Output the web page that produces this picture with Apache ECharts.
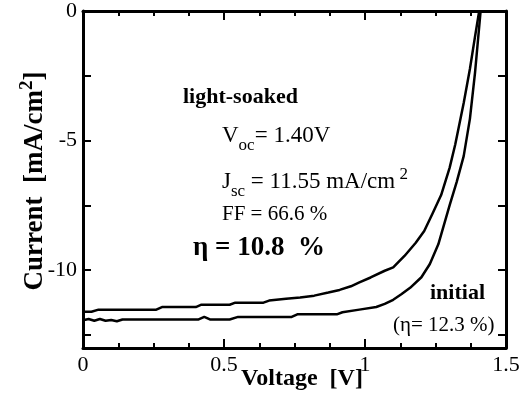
<!DOCTYPE html>
<html>
<head>
<meta charset="utf-8">
<script src="https://cdn.jsdelivr.net/npm/echarts@6/dist/echarts.min.js"></script>
<style>html,body{margin:0;padding:0;background:#fff}#c{width:528px;height:408px}</style>
</head>
<body>
<div id="c"></div>
<script>
// Light-soaked J-V curve [V, mA/cm2]
const lightSoaked = [
  [0,-11.60],[0.03,-11.60],[0.055,-11.52],[0.26,-11.52],[0.28,-11.42],[0.40,-11.42],
  [0.42,-11.33],[0.52,-11.33],[0.54,-11.25],[0.64,-11.25],[0.66,-11.17],[0.72,-11.10],
  [0.77,-11.05],[0.82,-10.98],[0.87,-10.86],[0.91,-10.76],[0.95,-10.62],[0.98,-10.47],
  [1.02,-10.28],[1.07,-10.02],[1.10,-9.89],[1.14,-9.45],[1.18,-8.94],[1.21,-8.49],
  [1.24,-7.80],[1.27,-7.10],[1.30,-6.05],[1.32,-5.15],[1.35,-3.55],[1.372,-2.24],
  [1.39,-1.0],[1.405,0]
];
// Initial J-V curve
const initial = [
  [0,-11.93],[0.02,-11.88],[0.04,-11.95],[0.06,-11.88],[0.08,-11.95],[0.10,-11.92],
  [0.12,-11.97],[0.14,-11.90],[0.41,-11.90],[0.43,-11.80],[0.45,-11.90],[0.52,-11.90],
  [0.55,-11.80],[0.74,-11.80],[0.76,-11.70],[0.90,-11.70],[0.92,-11.62],[0.98,-11.52],
  [1.04,-11.42],[1.07,-11.30],[1.10,-11.14],[1.13,-10.92],[1.16,-10.68],[1.20,-10.27],
  [1.23,-9.76],[1.26,-9.0],[1.28,-8.25],[1.30,-7.5],[1.325,-6.6],[1.35,-5.6],
  [1.372,-4.16],[1.39,-2.4],[1.41,0]
];
const yTicks = [0,-2.5,-5,-7.5,-10,-12.5];
const yLabels = [0,-5,-10];

const FONT = 'Liberation Serif';
const chart = echarts.init(document.getElementById('c'));
const txt = (x,y,text,size,bold,rich) => ({
  type:'text', left:x, top:y,
  style:{text, fontFamily:FONT, fontSize:size, fontWeight:bold?'bold':'normal', fill:'#000', rich:rich||{}}
});
const mkRich = () => ({
  n:{fontFamily:FONT,fontSize:23,color:'#000'},
  sub:{fontFamily:FONT,fontSize:17,color:'#000',padding:[20,0,0,0]},
  sup:{fontFamily:FONT,fontSize:17,color:'#000',padding:[0,0,14,0]}
});
chart.setOption({
  animation:false,
  grid:{left:83,right:22,top:8,bottom:60},
  xAxis:[{
    type:'value', min:0, max:1.5, interval:0.5,
    axisLine:{show:true,onZero:false,lineStyle:{color:'#000',width:3}}, splitLine:{show:false},
    axisTick:{show:true,inside:true,length:9,lineStyle:{color:'#000',width:2}},
    minorTick:{show:true,splitNumber:4,length:5,lineStyle:{color:'#000',width:2}},
    axisLabel:{color:'#000',fontFamily:FONT,fontSize:22,margin:6}
  },{
    type:'value', position:'top', min:0, max:1.5, interval:0.5,
    axisLine:{show:true,lineStyle:{color:'#000',width:3}}, splitLine:{show:false}, axisLabel:{show:false},
    axisTick:{show:true,inside:true,length:9,lineStyle:{color:'#000',width:2}},
    minorTick:{show:true,splitNumber:4,length:5,lineStyle:{color:'#000',width:2}}
  }],
  yAxis:[{
    type:'value', min:-13, max:0,
    axisLine:{show:true,onZero:false,lineStyle:{color:'#000',width:3}}, splitLine:{show:false},
    axisTick:{show:true,inside:true,length:8,customValues:yTicks,lineStyle:{color:'#000',width:2}},
    axisLabel:{color:'#000',fontFamily:FONT,fontSize:22,margin:6,customValues:yLabels}
  },{
    type:'value', position:'right', min:-13, max:0,
    axisLine:{show:true,onZero:false,lineStyle:{color:'#000',width:3}}, splitLine:{show:false}, axisLabel:{show:false},
    axisTick:{show:true,inside:true,length:8,customValues:yTicks,lineStyle:{color:'#000',width:2}}
  }],
  series:[
    {type:'line',data:lightSoaked,symbol:'none',lineStyle:{color:'#000',width:2.5}},
    {type:'line',data:initial,symbol:'none',lineStyle:{color:'#000',width:2.5}}
  ],
  graphic:[
    {type:'text', x:302, y:379,
     style:{text:'Voltage  [V]', fontFamily:FONT, fontSize:24, fontWeight:'bold', fill:'#000', align:'center', verticalAlign:'middle'}},
    {type:'text', x:35, y:181, rotation:Math.PI/2,
     style:{text:'Current  [mA/cm{sup|2}]', fontFamily:FONT, fontSize:27, fontWeight:'bold', fill:'#000', align:'center', verticalAlign:'middle',
       rich:{sup:{fontFamily:FONT,fontSize:19,fontWeight:'bold',color:'#000',padding:[0,0,16,0]}}}},
    txt(183,86,'light-soaked',22,true),
    txt(222,124,'{n|V}{sub|oc}{n|= 1.40V}',22,false,mkRich()),
    txt(222,166,'{n|J}{sub|sc}{n| = 11.55 mA/cm}{sup| 2}',22,false,mkRich()),
    txt(222,204,'FF = 66.6 %',21,false),
    txt(193,235,'η = 10.8  %',27,true),
    txt(430,282,'initial',22,true),
    txt(393,315,'(η= 12.3 %)',21,false)
  ]
});
</script>
</body>
</html>
